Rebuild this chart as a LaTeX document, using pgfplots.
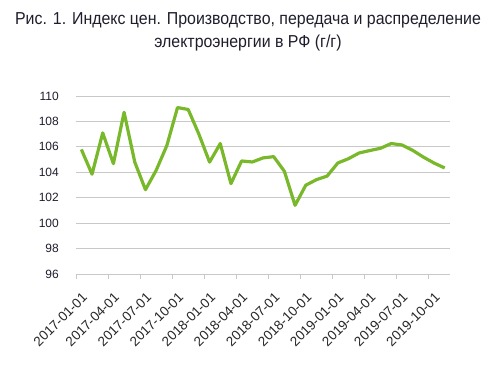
\documentclass[border=0pt]{standalone}
\usepackage{fontspec}
\setmainfont{Liberation Sans}
\newfontfamily\titlefont[FakeStretch=0.92]{Liberation Sans}
\usepackage{pgfplots}
\pgfplotsset{compat=1.18}
\definecolor{linegreen}{RGB}{120,184,42}
\definecolor{gridgray}{RGB}{200,200,200}
\definecolor{labelcol}{RGB}{30,30,45}
\begin{document}
\begin{tikzpicture}
\useasboundingbox (0,0) rectangle (496bp,373bp);
\node[anchor=base, font=\titlefont\fontsize{17.3bp}{20bp}\selectfont, text=labelcol, inner sep=0pt] at (248bp,348bp) {Рис. 1. Индекс цен. Производство, передача и распределение};
\node[anchor=base, font=\titlefont\fontsize{17.3bp}{20bp}\selectfont, text=labelcol, inner sep=0pt] at (248bp,325.5bp) {электроэнергии в РФ (г/г)};
\begin{axis}[
  at={(76bp,99bp)}, anchor=south west,
  scale only axis, width=374bp, height=178bp,
  xmin=-0.5, xmax=34.5, ymin=96, ymax=110,
  axis x line*=bottom, axis y line*=left,
  x axis line style={draw=gridgray, line width=1pt, -},
  y axis line style={draw=none},
  ytick={96,98,...,110},
  ymajorgrids, grid style={gridgray, line width=1pt},
  xtick={0,3,...,33},
  xticklabels={2017-01-01,2017-04-01,2017-07-01,2017-10-01,2018-01-01,2018-04-01,2018-07-01,2018-10-01,2019-01-01,2019-04-01,2019-07-01,2019-10-01},
  major tick length=0pt,
  extra x ticks={-0.5,2.5,5.5,8.5,11.5,14.5,17.5,20.5,23.5,26.5,29.5,32.5},
  extra x tick labels={},
  extra x tick style={grid=none, major tick length=5bp, tick align=outside, tick style={gridgray, line width=1pt}},
  /pgf/number format/assume math mode=true,
  yticklabel style={font=\fontsize{12bp}{14bp}\selectfont, text=labelcol, anchor=east, inner sep=0pt, xshift=-17bp},
  xticklabel style={font=\fontsize{13.5bp}{16bp}\selectfont, text=black!85, xshift=3.5bp, yshift=-21bp, rotate=45, anchor=east, inner sep=0pt},
  /pgf/number format/.cd, 1000 sep={},
]
\addplot[linegreen, line width=3.2pt, line join=round] coordinates {
(0,105.8) (1,103.85) (2,107.1) (3,104.68) (4,108.72) (5,104.8) (6,102.63) (7,104.15) (8,106.1) (9,109.09) (10,108.94)
(11,107.0) (12,104.8) (13,106.26) (14,103.11) (15,104.89) (16,104.81) (17,105.13) (18,105.23) (19,104.08) (20,101.4)
(21,102.98) (22,103.42) (23,103.7) (24,104.73) (25,105.07) (26,105.52) (27,105.71) (28,105.89) (29,106.26) (30,106.15)
(31,105.73) (32,105.2) (33,104.73) (34,104.34)
};
\end{axis}
\end{tikzpicture}
\end{document}
